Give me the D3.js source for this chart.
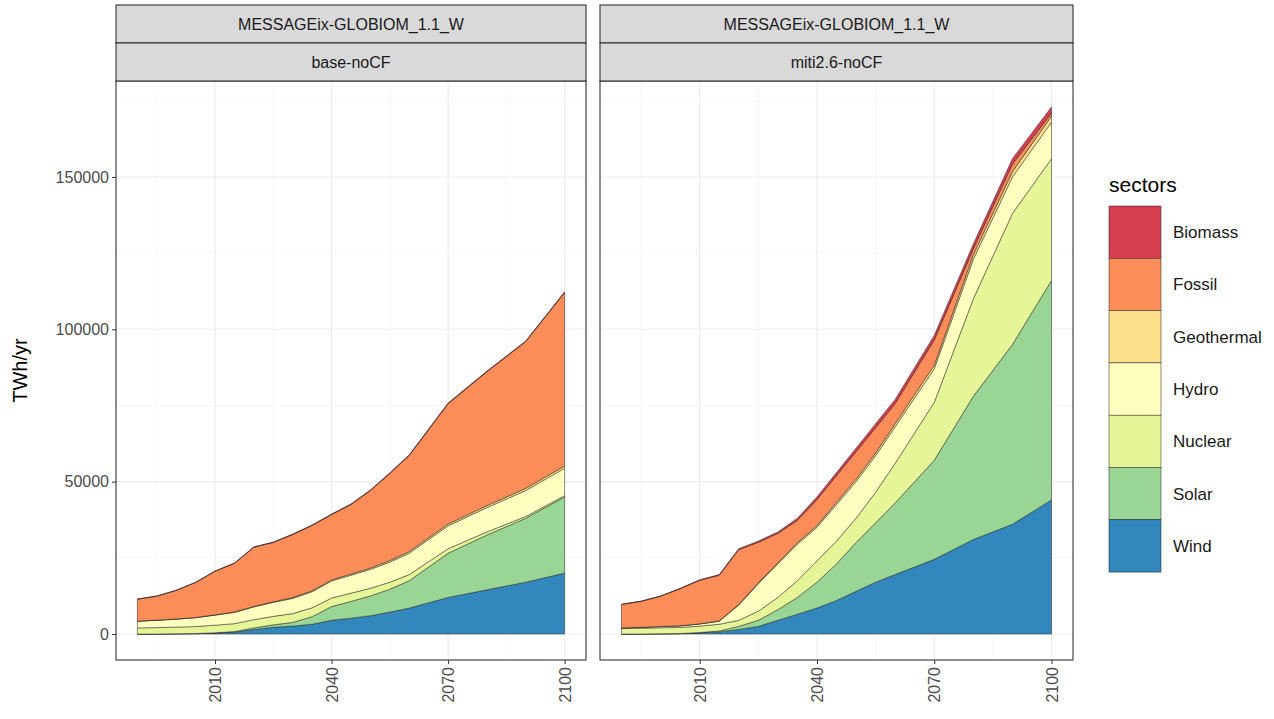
<!DOCTYPE html>
<html><head><meta charset="utf-8">
<script src="https://cdn.jsdelivr.net/npm/d3@7"></script>
<style>body{margin:0;background:#fff;font-family:"Liberation Sans",Arial,sans-serif}</style>
</head><body><svg id="chart" width="1274" height="719"></svg>
<script>
// years and sectors
var years = [1990,1995,2000,2005,2010,2015,2020,2025,2030,2035,2040,2045,2050,2055,2060,2070,2080,2090,2100];
var sectors = ["Biomass","Fossil","Geothermal","Hydro","Nuclear","Solar","Wind"];
var colors = ["#D53E4F","#FC8D59","#FEE08B","#FFFFBF","#E6F598","#99D594","#3288BD"];
var yTicks = [0,50000,100000,150000];
var xTicks = [2010,2040,2070,2100];

// base-noCF
var windBase    = [0,0,50,100,300,600,1500,2200,2600,3200,4500,5200,6000,7200,8500,12000,14500,17000,20000];
var solarBase   = [0,0,0,50,100,200,500,800,1200,2500,4500,5500,6500,7500,9000,14500,18000,21000,25000];
var nuclearBase = [2000,2100,2200,2300,2500,2600,2700,2800,2900,2900,2800,2700,2500,2300,2000,1500,1000,600,400];
var hydroBase   = [2200,2400,2600,2900,3300,3700,4200,4600,5000,5300,5600,5900,6200,6600,7000,7500,8000,8500,9000];
var geoBase     = [50,60,70,80,100,120,150,200,250,300,350,400,450,500,550,600,650,700,750];
var fossilBase  = [7150,7840,9380,11470,14300,15980,19450,19450,20700,21450,21450,22800,25450,28600,31550,39500,43950,48200,56950];
var bioBase     = [100,100,100,100,100,100,100,150,150,150,200,200,200,200,200,200,200,200,200];

// miti2.6-noCF
var windMiti    = [0,0,50,100,400,700,1500,2500,4500,6500,8500,11000,14000,17000,19500,24500,31000,36000,44000];
var solarMiti   = [0,0,0,50,100,300,1000,2000,3500,5500,8500,12000,16000,19500,23500,32500,47000,59000,72000];
var nuclearMiti = [1800,1900,2000,2000,2100,2200,2000,3000,4000,5500,7000,7500,8000,10000,13000,19000,32000,43000,40000];
var hydroMiti   = [200,300,400,500,700,1000,5000,9000,11000,12000,11000,12000,12000,12000,12000,11000,13000,12000,12000];
var geoMiti     = [0,0,0,50,50,100,200,300,400,500,600,700,800,900,1000,1200,1500,1700,2000];
var fossilMiti  = [7700,8500,9950,12150,14250,15000,18000,13300,9600,7300,8500,8800,9000,8300,6600,8300,1900,2500,1000];
var bioMiti     = [100,100,100,150,200,200,300,400,500,700,900,1000,1200,1300,1400,1500,1600,1800,2000];

var panels = [
  {model:"MESSAGEix-GLOBIOM_1.1_W", scen:"base-noCF", x0:116, x1:586,
   s:{Wind:windBase,Solar:solarBase,Nuclear:nuclearBase,Hydro:hydroBase,Geothermal:geoBase,Fossil:fossilBase,Biomass:bioBase}},
  {model:"MESSAGEix-GLOBIOM_1.1_W", scen:"miti2.6-noCF", x0:600, x1:1073,
   s:{Wind:windMiti,Solar:solarMiti,Nuclear:nuclearMiti,Hydro:hydroMiti,Geothermal:geoMiti,Fossil:fossilMiti,Biomass:bioMiti}}
];

var svg = d3.select("#chart");
var yTop = 81, yBottom = 660;
var color = d3.scaleOrdinal().domain(sectors).range(colors);
var y = d3.scaleLinear().domain([-8530, 181500]).range([yBottom, yTop]);
var stackOrder = ["Wind","Solar","Nuclear","Hydro","Geothermal","Fossil","Biomass"];

panels.forEach(function(p, pi){
  var x = d3.scaleLinear().domain([1984.5, 2105.5]).range([p.x0, p.x1]);
  var g = svg.append("g");
  // grid
  var minorX = [1995,2025,2055,2085], minorY = [25000,75000,125000,175000];
  g.selectAll(".mx").data(minorX).enter().append("line")
    .attr("x1",x).attr("x2",x).attr("y1",yTop).attr("y2",yBottom).attr("stroke","#f2f2f2").attr("stroke-width",0.6);
  g.selectAll(".my").data(minorY).enter().append("line")
    .attr("x1",p.x0).attr("x2",p.x1).attr("y1",y).attr("y2",y).attr("stroke","#f2f2f2").attr("stroke-width",0.6);
  g.selectAll(".gx").data(xTicks).enter().append("line")
    .attr("x1",x).attr("x2",x).attr("y1",yTop).attr("y2",yBottom).attr("stroke","#ebebeb").attr("stroke-width",1.1);
  g.selectAll(".gy").data(yTicks).enter().append("line")
    .attr("x1",p.x0).attr("x2",p.x1).attr("y1",y).attr("y2",y).attr("stroke","#ebebeb").attr("stroke-width",1.1);

  var rows = years.map(function(yr,i){
    var r = {year:yr};
    stackOrder.forEach(function(k){ r[k] = p.s[k][i]; });
    return r;
  });
  var layers = d3.stack().keys(stackOrder)(rows);
  var area = d3.area().x(function(d){return x(d.data.year);})
    .y0(function(d){return y(d[0]);}).y1(function(d){return y(d[1]);});
  g.selectAll(".layer").data(layers).enter().append("path")
    .attr("d", area).attr("fill", function(d){return color(d.key);})
    .attr("stroke","#222").attr("stroke-width",0.5);

  // border
  g.append("rect").attr("x",p.x0).attr("y",yTop).attr("width",p.x1-p.x0).attr("height",yBottom-yTop)
    .attr("fill","none").attr("stroke","#333").attr("stroke-width",1.1);
  // strips
  [[p.model,5],[p.scen,43]].forEach(function(s){
    g.append("rect").attr("x",p.x0).attr("y",s[1]).attr("width",p.x1-p.x0).attr("height",38)
      .attr("fill","#d9d9d9").attr("stroke","#333").attr("stroke-width",1.1);
    g.append("text").attr("x",(p.x0+p.x1)/2).attr("y",s[1]+25).attr("text-anchor","middle")
      .attr("font-size",16).attr("fill","#1a1a1a").text(s[0]);
  });
  // x axis
  var xa = g.append("g").attr("transform","translate(0,"+yBottom+")")
    .call(d3.axisBottom(x).tickValues(xTicks).tickSize(4).tickFormat(d3.format("d")));
  xa.select(".domain").remove();
  xa.selectAll("line").attr("stroke","#333");
  xa.selectAll("text").attr("font-size",16).attr("fill","#4d4d4d")
    .attr("transform","rotate(-90)").attr("text-anchor","end").attr("x",-7).attr("y",0).attr("dy","0.35em");
  if(pi===0){
    var ya = g.append("g").attr("transform","translate("+p.x0+",0)")
      .call(d3.axisLeft(y).tickValues(yTicks).tickSize(4).tickFormat(d3.format("d")));
    ya.select(".domain").remove();
    ya.selectAll("line").attr("stroke","#333");
    ya.selectAll("text").attr("font-size",16).attr("fill","#4d4d4d");
  }
});

svg.append("text").attr("transform","translate(27,"+((yTop+yBottom)/2)+") rotate(-90)")
  .attr("text-anchor","middle").attr("font-size",20).attr("fill","#000").text("TWh/yr");

// legend
var lg = svg.append("g").attr("transform","translate(1109,0)");
lg.append("text").attr("x",0).attr("y",192).attr("font-size",21).text("sectors");
sectors.forEach(function(s,i){
  var yy = 206 + i*52.3;
  lg.append("rect").attr("x",0).attr("y",yy).attr("width",52).attr("height",52.3)
    .attr("fill",color(s)).attr("stroke","#222").attr("stroke-width",0.5);
  lg.append("text").attr("x",64).attr("y",yy+32).attr("font-size",17).attr("fill","#1a1a1a").text(s);
});
</script></body></html>
